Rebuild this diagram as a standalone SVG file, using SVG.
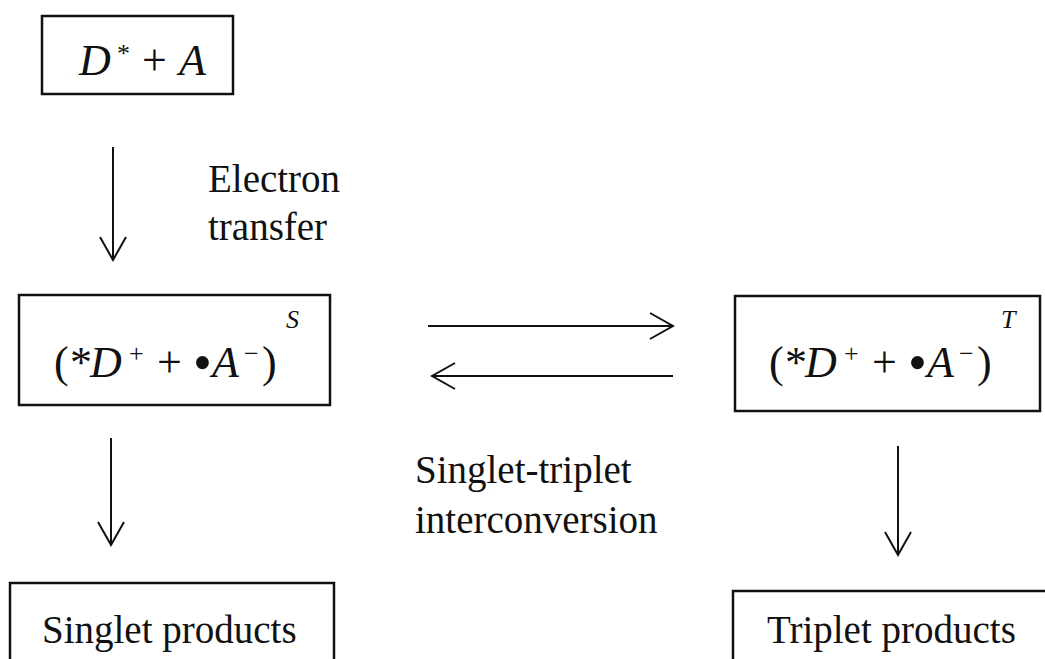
<svg xmlns="http://www.w3.org/2000/svg" width="1045" height="659" viewBox="0 0 1045 659">
<defs>
<style>
.box{fill:#fff;stroke:#111;stroke-width:2.5}
.t{font-family:"Liberation Serif","Times New Roman",serif;font-size:39px;fill:#111}
.m{font-family:"Liberation Serif","Times New Roman",serif;font-size:44px;fill:#111}
.i{font-style:italic}
.sup{font-size:26px}
.b{font-size:54px}
.ln{stroke:#111;stroke-width:2;fill:none}
</style>
<marker id="ah" viewBox="0 0 26 28" refX="24" refY="14" markerWidth="26" markerHeight="28" markerUnits="userSpaceOnUse" orient="auto">
<path d="M1,1 L24,14 L1,27" fill="none" stroke="#111" stroke-width="2"/>
</marker>
</defs>
<rect width="1045" height="659" fill="#fff"/>
<g id="n1">
<rect class="box" x="42" y="16" width="191" height="78"/>
<text class="m" y="75"><tspan class="i" x="79">D</tspan><tspan class="sup" x="117" y="62">*</tspan><tspan x="142" y="75">+</tspan><tspan class="i" x="179">A</tspan></text>
</g>
<g id="n2">
<rect class="box" x="19" y="295" width="311" height="110"/>
<text class="m" y="377"><tspan x="54">(</tspan><tspan x="70">*</tspan><tspan class="i" x="90">D</tspan><tspan class="sup" x="129" y="362">+</tspan><tspan x="157" y="377">+</tspan><tspan class="b" x="193" y="381">•</tspan><tspan class="i" x="212" y="377">A</tspan><tspan class="sup" x="244" y="362">−</tspan><tspan x="262" y="377">)</tspan><tspan class="sup i" x="286" y="328">S</tspan></text>
</g>
<g id="n3">
<rect class="box" x="735" y="296" width="305" height="115"/>
<text class="m" y="377"><tspan x="769">(</tspan><tspan x="785">*</tspan><tspan class="i" x="805">D</tspan><tspan class="sup" x="844" y="362">+</tspan><tspan x="872" y="377">+</tspan><tspan class="b" x="908" y="381">•</tspan><tspan class="i" x="927" y="377">A</tspan><tspan class="sup" x="959" y="362">−</tspan><tspan x="977" y="377">)</tspan><tspan class="sup i" x="1001" y="328">T</tspan></text>
</g>
<g id="n4">
<rect class="box" x="10" y="583" width="324" height="90"/>
<text class="t" x="42" y="643">Singlet products</text>
</g>
<g id="n5">
<rect class="box" x="733" y="591" width="330" height="90"/>
<text class="t" x="767" y="643">Triplet products</text>
</g>
<g id="labels">
<text class="t" x="208" y="192">Electron</text>
<text class="t" x="208" y="240">transfer</text>
<text class="t" x="415" y="483">Singlet-triplet</text>
<text class="t" x="415" y="533">interconversion</text>
</g>
<g id="connectors">
<line class="ln" x1="113" y1="147" x2="113" y2="260" marker-end="url(#ah)"/>
<line class="ln" x1="428" y1="326" x2="673" y2="326" marker-end="url(#ah)"/>
<line class="ln" x1="673" y1="376" x2="432" y2="376" marker-end="url(#ah)"/>
<line class="ln" x1="111" y1="438" x2="111" y2="545" marker-end="url(#ah)"/>
<line class="ln" x1="898" y1="446" x2="898" y2="555" marker-end="url(#ah)"/>
</g>
</svg>
